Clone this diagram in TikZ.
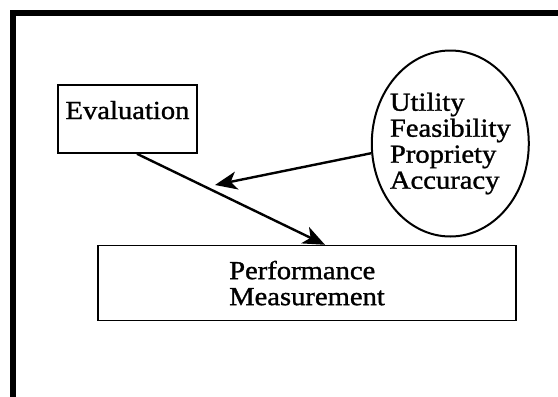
\documentclass[tikz,border=0pt]{standalone}
\usepackage{fontspec}
\setmainfont{Liberation Serif}[FakeStretch=1.1,FakeBold=1.2]
\usetikzlibrary{arrows.meta}
\usetikzlibrary{shapes.geometric,positioning}
\tikzset{font={\fontsize{26pt}{26pt}\selectfont}}
\tikzset{
  box/.style={draw, rectangle, line width=1.6pt},
  oval/.style={draw, ellipse, line width=2pt, align=left, inner xsep=-8pt},
  arr/.style={-{Stealth[length=22pt,width=18pt,inset=6pt]}, line width=2.4pt}
}

\begin{document}
\begin{tikzpicture}[x=1pt,y=-1pt]
  \useasboundingbox (0,0) rectangle (558,397);
  % Frame
  \draw[line width=6pt] (13,397) -- (13,13) -- (558,13);

  % Define nodes
  \node[box, minimum width=139pt, minimum height=68pt, text height=16pt, text depth=16pt] (eval) at (127.5,119) {Evaluation};
  \node[box, minimum width=418pt, minimum height=75pt, align=left, below right=91pt and 40pt of eval.south west] (perf) {Performance\\Measurement};
  \node[oval, minimum width=157pt, minimum height=186pt, right=173pt of eval, yshift=-24.5pt] (std) {Utility\\Feasibility\\Propriety\\Accuracy};
  \coordinate (hit) at (215,185);

  % Connect the nodes
  \draw[arr] ([xshift=9.5pt]eval.south) -- ([xshift=18pt]perf.north);
  \draw[arr] (std.187) -- (hit);
\end{tikzpicture}
\end{document}
